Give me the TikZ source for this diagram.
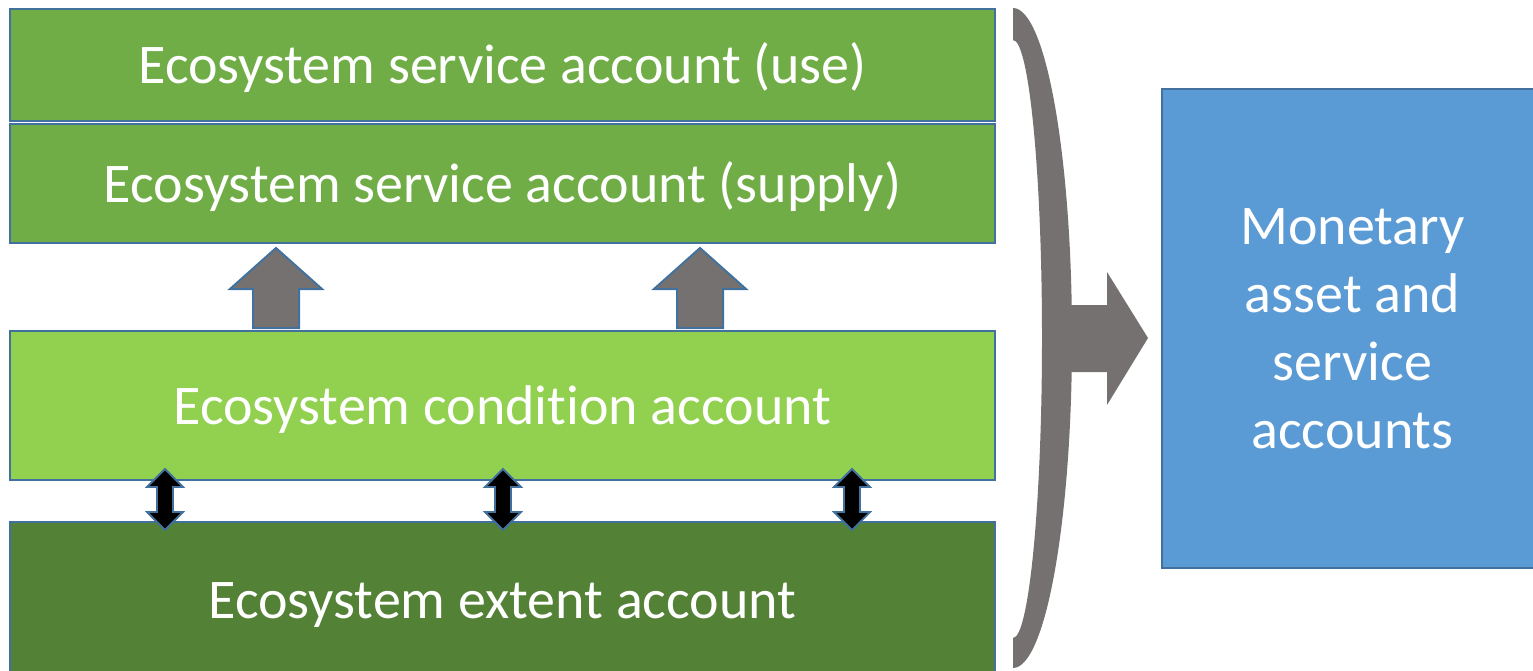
\documentclass[tikz,border=0pt]{standalone}
\usepackage{fontspec}
\setmainfont{Carlito}[RawFeature={-liga}]
\definecolor{leafgreen}{HTML}{70AD47}
\definecolor{limegreen}{HTML}{92D050}
\definecolor{forestgreen}{HTML}{538135}
\definecolor{skyblue}{HTML}{5B9BD5}
\definecolor{edgeblue}{HTML}{41719C}
\definecolor{slategray}{HTML}{767171}
\tikzset{
  panel/.style={draw=edgeblue, line width=2.2pt, text=white, inner sep=0pt,
    font=\fontsize{56}{68}\selectfont},
  acct/.style={panel, text height=37pt, text depth=0pt},
  upblock/.style={fill=slategray, draw=edgeblue, line width=2pt, line join=miter},
  twoway/.style={fill=black, draw=edgeblue, line width=1.8pt, line join=miter},
  brace/.style={fill=slategray, draw=none}
}
\begin{document}
\begin{tikzpicture}[x=1pt, y=-1pt]
\useasboundingbox (0,0) rectangle (1533,670);
\clip (0,0) rectangle (1533,670);

% account layers
\node[acct, fill=leafgreen, minimum width=985pt, minimum height=112pt] (use) at (502.5,65)
  {Ecosystem service account (use)};
\node[acct, fill=leafgreen, minimum width=985pt, minimum height=119pt] (supply) at (502.5,183.5)
  {Ecosystem service account (supply)};
\node[acct, fill=limegreen, minimum width=985pt, minimum height=149pt] (condition) at (502.5,405.5)
  {Ecosystem condition account};
\node[acct, fill=forestgreen, minimum width=985pt, minimum height=156pt] (extent) at (502.5,600)
  {Ecosystem extent account};

% monetary accounts
\node[panel, fill=skyblue, minimum width=381pt, minimum height=479pt, align=center] (money) at (1352.5,328.5)
  {Monetary\\asset and\\service\\accounts};

% condition feeds supply
\foreach \cx in {276,700} {
  \draw[upblock] (\cx,248) -- (\cx+46,289) -- (\cx+23,289) -- (\cx+23,328)
    -- (\cx-23,328) -- (\cx-23,289) -- (\cx-46,289) -- cycle;
}

% condition <-> extent
\foreach \cx in {165,503,852} {
  \draw[twoway] (\cx,469) -- (\cx+18,487) -- (\cx+8,487) -- (\cx+8,512) -- (\cx+18,512)
    -- (\cx,530) -- (\cx-18,512) -- (\cx-8,512) -- (\cx-8,487) -- (\cx-18,487) -- cycle;
}

% brace gathering all layers, with its arrow
\fill[brace] (1013,8) .. controls (1045.6,8) and (1072,155.7) .. (1072,338)
  .. controls (1072,520.3) and (1045.6,668) .. (1013,668)
  -- (1013,638) .. controls (1029,638) and (1042,502.6) .. (1042,338)
  .. controls (1042,173.4) and (1029,40) .. (1013,40) -- cycle;
\fill[brace] (1060,305) -- (1107,305) -- (1107,272) -- (1148,338) -- (1107,405)
  -- (1107,372) -- (1060,372) -- cycle;
\end{tikzpicture}
\end{document}
